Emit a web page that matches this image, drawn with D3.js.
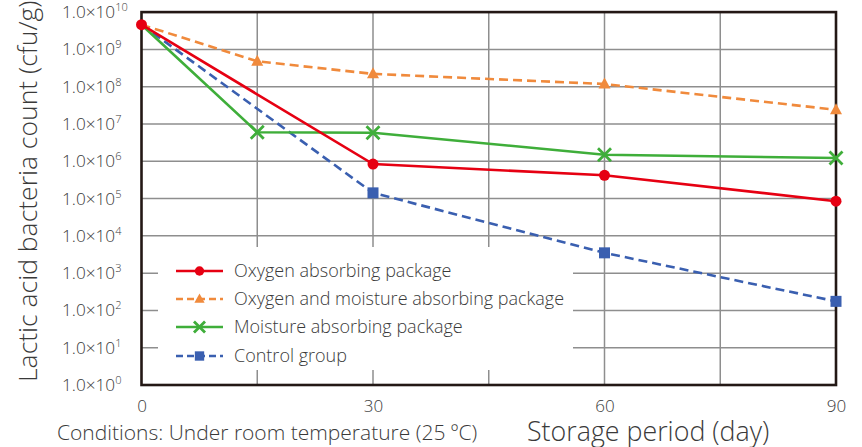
<!DOCTYPE html>
<html><head><meta charset="utf-8">
<script src="https://cdn.jsdelivr.net/npm/d3@7"></script>
<style>
html,body{margin:0;padding:0;background:#fff;}
svg{display:block;}
text{font-family:"Open Sans","Noto Sans",sans-serif;fill:#3a3a3a;font-weight:300;}
</style></head>
<body>
<svg id="chart" width="862" height="447"></svg>
<script>
// ---- data ----
const seriesNames = ["Oxygen absorbing package","Oxygen and moisture absorbing package","Moisture absorbing package","Control group"];
const oxygenDays = [0, 30, 60, 90];
const oxygenValues = [4.6e9, 8.4e5, 4.2e5, 8.5e4];
const oxyMoistDays = [0, 15, 30, 60, 90];
const oxyMoistValues = [4.6e9, 4.8e8, 2.2e8, 1.18e8, 2.4e7];
const moistureDays = [0, 15, 30, 60, 90];
const moistureValues = [4.6e9, 6.0e6, 5.8e6, 1.5e6, 1.22e6];
const controlDays = [0, 30, 60, 90];
const controlValues = [4.6e9, 1.42e5, 3.5e3, 1.75e2];
const xTicks = [0, 30, 60, 90];
const xGrid = [15, 30, 45, 60, 75];
const yExponents = [0,1,2,3,4,5,6,7,8,9,10];
const yTitle = "Lactic acid bacteria count (cfu/g)";
const xTitle = "Storage period (day)";
const noteText = "Conditions: Under room temperature (25 ºC)";

// ---- styles ----
const colors = ["#e60012", "#f08a3c", "#3fae3a", "#3a5fb0"];
const dashes = [null, "9,5", null, "9,5"];
const symbols = ["circle", "triangle", "cross", "square"];

const svg = d3.select("#chart");
const L = 141.5, R = 836, T = 12.1, B = 385;
const x = d3.scaleLinear().domain([0, 90]).range([L, R]);
const y = d3.scaleLog().domain([1, 1e10]).range([B, T]);

// grid
const grid = svg.append("g").attr("stroke", "#8e8e8e").attr("stroke-width", 1.5);
yExponents.forEach(e => {
  grid.append("line").attr("x1", L).attr("x2", R).attr("y1", y(Math.pow(10, e))).attr("y2", y(Math.pow(10, e)));
});
xGrid.forEach(d => {
  grid.append("line").attr("x1", x(d)).attr("x2", x(d)).attr("y1", T).attr("y2", B);
});

// legend background (hides grid)
const legX0 = 158, legX1 = 573, legY0 = 247, legY1 = 370;
svg.append("rect").attr("x", legX0).attr("y", legY0).attr("width", legX1 - legX0).attr("height", legY1 - legY0).attr("fill", "#fff");

// axis frame
svg.append("rect").attr("x", L).attr("y", T).attr("width", R - L).attr("height", B - T)
  .attr("fill", "none").attr("stroke", "#231815").attr("stroke-width", 2.6);

// y tick labels
const yl = svg.append("g");
yExponents.forEach(e => {
  const t = yl.append("text").attr("x", 62).attr("y", y(Math.pow(10, e)) + 6).attr("font-size", 17.2);
  t.append("tspan").text("1.0×10");
  t.append("tspan").attr("font-size", 11).attr("dy", -7).text(e);
});

// x axis ticks via d3 axis (labels only)
const xAxis = svg.append("g").attr("transform", `translate(0,${B})`)
  .call(d3.axisBottom(x).tickValues(xTicks).tickSize(0).tickPadding(0).tickFormat(d3.format("d")));
xAxis.select(".domain").remove();
xAxis.selectAll("text").attr("font-size", 17).attr("dy", null).attr("y", 27)
  .style("font-family", '"Open Sans","Noto Sans",sans-serif').style("font-weight", 300).attr("fill", "#3a3a3a");

// titles
svg.append("text").attr("transform", "translate(37,382) rotate(-90)").attr("font-size", 26.5).text(yTitle);
svg.append("text").attr("x", 527).attr("y", 441).attr("font-size", 26.8).text(xTitle);
svg.append("text").attr("x", 57).attr("y", 440).attr("font-size", 21).text(noteText);

// marker drawer
function marker(g, kind, cx, cy, color, scale) {
  const s = scale || 1;
  if (kind === "circle") {
    g.append("circle").attr("cx", cx).attr("cy", cy).attr("r", 5.5 * s).attr("fill", color);
  } else if (kind === "triangle") {
    const h = 11 * s, w = 12 * s;
    g.append("path").attr("d", `M${cx},${cy - h * 0.6}L${cx + w / 2},${cy + h * 0.4}L${cx - w / 2},${cy + h * 0.4}Z`).attr("fill", color);
  } else if (kind === "cross") {
    const a = 6.5 * s;
    g.append("path").attr("d", `M${cx - a},${cy - a}L${cx + a},${cy + a}M${cx - a},${cy + a}L${cx + a},${cy - a}`)
      .attr("stroke", color).attr("stroke-width", 2.8).attr("fill", "none");
  } else if (kind === "square") {
    const a = 11 * s;
    g.append("rect").attr("x", cx - a / 2).attr("y", cy - a / 2).attr("width", a).attr("height", a).attr("fill", color);
  }
}

const series = [
  { days: oxygenDays, values: oxygenValues },
  { days: oxyMoistDays, values: oxyMoistValues },
  { days: moistureDays, values: moistureValues },
  { days: controlDays, values: controlValues }
];
const line = d3.line().x(d => x(d[0])).y(d => y(d[1]));
// draw order: control, moisture, oxy+moist, oxygen on top
[3, 2, 1, 0].forEach(i => {
  const s = series[i];
  const pts = s.days.map((d, k) => [d, s.values[k]]);
  const g = svg.append("g");
  g.append("path").attr("d", line(pts)).attr("fill", "none").attr("stroke", colors[i])
    .attr("stroke-width", 2.6).attr("stroke-dasharray", dashes[i]);
  pts.forEach((p, k) => {
    if (i !== 0 && k === 0) return; // start point shared, covered by red marker
    marker(g, symbols[i], x(p[0]), y(p[1]), colors[i]);
  });
});

// legend
const legRows = [271, 299, 327, 356];
seriesNames.forEach((name, i) => {
  const g = svg.append("g");
  const ly = legRows[i];
  g.append("line").attr("x1", 176).attr("x2", 223).attr("y1", ly).attr("y2", ly)
    .attr("stroke", colors[i]).attr("stroke-width", 2.6).attr("stroke-dasharray", dashes[i] ? "7,4" : null);
  marker(g, symbols[i], 199.5, ly, colors[i], 0.85);
  g.append("text").attr("x", 234).attr("y", ly + 6).attr("font-size", 18).text(name);
});
</script>
</body></html>
